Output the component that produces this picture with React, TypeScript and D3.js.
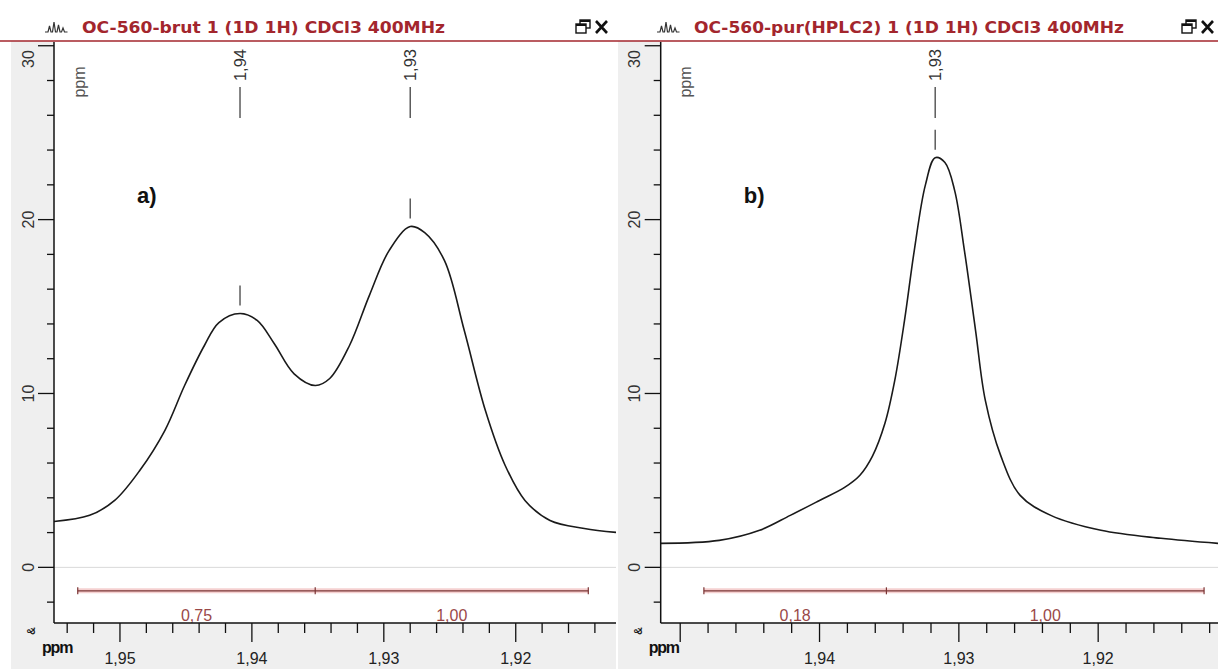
import React from "react";
import * as d3 from "d3";

// ---------- data ----------
const leftTitle = "OC-560-brut 1 (1D 1H) CDCl3 400MHz";
const rightTitle = "OC-560-pur(HPLC2) 1 (1D 1H) CDCl3 400MHz";

const leftPpm = [1.955, 1.9523, 1.9504, 1.9485, 1.9466, 1.9451, 1.9436, 1.9425, 1.9409, 1.9396, 1.9383, 1.9368, 1.9352, 1.9341, 1.9326, 1.9311, 1.9296, 1.928, 1.9269, 1.9254, 1.9239, 1.9223, 1.9208, 1.9193, 1.9174, 1.9148, 1.9124];
const leftIntensity = [2.64, 2.99, 3.85, 5.57, 7.87, 10.46, 12.76, 14.08, 14.6, 14.2, 12.86, 11.13, 10.46, 10.86, 12.76, 15.63, 18.22, 19.6, 19.25, 17.64, 13.62, 9.02, 5.86, 3.85, 2.7, 2.24, 2.01];

const rightPpm = [1.9515, 1.9472, 1.9443, 1.9421, 1.94, 1.9382, 1.9371, 1.9362, 1.9353, 1.9346, 1.9339, 1.9332, 1.9324, 1.9317, 1.931, 1.9303, 1.9296, 1.9288, 1.9281, 1.927, 1.9256, 1.9234, 1.9198, 1.9155, 1.9114];
const rightIntensity = [1.38, 1.55, 2.13, 2.99, 3.85, 4.6, 5.3, 6.4, 8.3, 10.75, 14.2, 18.22, 22.0, 23.56, 23.28, 21.67, 18.22, 13.62, 9.6, 6.44, 4.14, 2.99, 2.13, 1.67, 1.38];

const leftDomain = [1.955, 1.9124];
const rightDomain = [1.9514, 1.9114];
const yDomain = [-3.2, 30.1];

const leftPeaks = [1.9409, 1.928];
const leftPeakHeights = [14.6, 19.6];
const rightPeaks = [1.9317];
const rightPeakHeights = [23.56];

const leftIntegralBounds = [1.9532, 1.9352, 1.9145];
const leftIntegralValues = [0.75, 1.0];
const rightIntegralBounds = [1.9483, 1.9352, 1.9124];
const rightIntegralValues = [0.18, 1.0];
const integralLevel = -1.35;

const leftTickLabels = [1.95, 1.94, 1.93, 1.92];
const rightTickLabels = [1.94, 1.93, 1.92];
const yMajorTicks = [0, 10, 20, 30];
const yMinorTicks = d3.range(-2, 31, 2);

const fmt = (v: number) => d3.format(".2f")(v).replace(".", ",");

// ---------- layout ----------
const W = 1218;
const H = 669;
const HEADER_Y = 41;
const PLOT_TOP = 43;
const AXIS_Y = 623;
const GRAY = "#efefef";
const RED = "#a3262d";
const INTEG = "#7a3434";
const FONT = "'Liberation Sans', Arial, sans-serif";

type PanelProps = {
  x0: number; x1: number; axisX: number; plotRight: number; bandLeft: number;
  title: string; titleLen: number; letter: string;
  ppm: number[]; intensity: number[]; domain: number[];
  peaks: number[]; peakHeights: number[];
  integralBounds: number[]; integralValues: number[];
  tickLabels: number[];
};

function Panel(p: PanelProps) {
  const x = d3.scaleLinear().domain(p.domain).range([p.axisX, p.plotRight]);
  const y = d3.scaleLinear().domain(yDomain).range([AXIS_Y, PLOT_TOP + 1]);
  const pts = p.ppm.map((v, i) => [x(v), y(p.intensity[i])] as [number, number]).sort((a, b) => a[0] - b[0]);
  const line = d3.line().curve(d3.curveCatmullRom.alpha(0.5))(pts) || "";
  const lo = Math.min(p.domain[0], p.domain[1]);
  const hi = Math.max(p.domain[0], p.domain[1]);
  const minor = d3.range(Math.ceil(lo / 0.002 - 1e-6), Math.floor(hi / 0.002 + 1e-6) + 1).map((k) => k * 0.002);
  const isMajor = (v: number) => Math.abs(v * 100 - Math.round(v * 100)) < 1e-6;
  const clipId = `clip-${p.x0}`;
  const icx = p.x1 - 36;
  return (
    <g>
      <defs>
        <clipPath id={clipId}>
          <rect x={p.axisX} y={PLOT_TOP} width={p.plotRight - p.axisX} height={AXIS_Y - PLOT_TOP} />
        </clipPath>
      </defs>
      {/* gray bands */}
      <rect x={p.bandLeft} y={HEADER_Y} width={p.axisX - p.bandLeft} height={H - HEADER_Y} fill={GRAY} />
      <rect x={p.bandLeft} y={AXIS_Y} width={p.plotRight - p.bandLeft} height={H - AXIS_Y} fill={GRAY} />
      {/* header */}
      <line x1={p.x0} x2={p.x1} y1={HEADER_Y} y2={HEADER_Y} stroke={RED} strokeWidth={1.5} />
      <path
        d={`M${p.x0 + 45},32 h3 l1.5,-6 l1.5,6 h1.5 l1.5,-10 l1.5,10 h1.5 l1.5,-7 l1.5,7 h1.5 l1.5,-4 l1.5,4 h3`}
        fill="none" stroke="#333" strokeWidth={1.2}
      />
      <text x={p.x0 + 82} y={33} fontFamily="'DejaVu Sans', Verdana, sans-serif" fontWeight="bold" fontSize={15.5}
        fill={RED} textLength={p.titleLen} lengthAdjust="spacingAndGlyphs">{p.title}</text>
      {/* restore & close icons */}
      <rect x={icx + 4} y={20} width={10} height={8} fill="#fff" stroke="#111" strokeWidth={1.4} />
      <line x1={icx + 4} x2={icx + 14} y1={21} y2={21} stroke="#111" strokeWidth={2} />
      <rect x={icx} y={24} width={10} height={9} fill="#fff" stroke="#111" strokeWidth={1.4} />
      <line x1={icx} x2={icx + 10} y1={25} y2={25} stroke="#111" strokeWidth={2} />
      <path d={`M${icx + 20},21 l11,12 M${icx + 31},21 l-11,12`} stroke="#111" strokeWidth={2.6} />
      {/* zero line */}
      <line x1={p.axisX} x2={p.plotRight} y1={y(0)} y2={y(0)} stroke="#d9d9d9" strokeWidth={1} />
      {/* integrals */}
      <line x1={x(p.integralBounds[0])} x2={x(p.integralBounds[p.integralBounds.length - 1])} y1={y(integralLevel)} y2={y(integralLevel)}
        stroke="#f5d0d0" strokeWidth={5} />
      <line x1={x(p.integralBounds[0])} x2={x(p.integralBounds[p.integralBounds.length - 1])} y1={y(integralLevel)} y2={y(integralLevel)}
        stroke={INTEG} strokeWidth={1.4} />
      {p.integralBounds.map((b, i) => (
        <line key={i} x1={x(b)} x2={x(b)} y1={y(integralLevel) - 3.5} y2={y(integralLevel) + 3.5} stroke={INTEG} strokeWidth={1.2} />
      ))}
      {p.integralValues.map((v, i) => (
        <text key={i} x={x((p.integralBounds[i] + p.integralBounds[i + 1]) / 2)} y={621} textAnchor="middle"
          fontFamily={FONT} fontSize={16} fill="#9a4848">{fmt(v)}</text>
      ))}
      {/* spectrum */}
      <g clipPath={`url(#${clipId})`}>
        <path d={line} fill="none" stroke="#1a1a1a" strokeWidth={1.6} />
      </g>
      {/* peak labels */}
      {p.peaks.map((v, i) => (
        <g key={i}>
          <text transform={`translate(${x(v)},65) rotate(-90)`} textAnchor="middle" dominantBaseline="central"
            fontFamily={FONT} fontSize={16.5} fill="#333">{fmt(v)}</text>
          <line x1={x(v)} x2={x(v)} y1={87} y2={118} stroke="#333" strokeWidth={1.2} />
          <line x1={x(v)} x2={x(v)} y1={y(p.peakHeights[i]) - 28} y2={y(p.peakHeights[i]) - 8} stroke="#333" strokeWidth={1.2} />
        </g>
      ))}
      {/* in-plot ppm unit */}
      <text transform={`translate(${p.axisX + 25},82) rotate(-90)`} textAnchor="middle" dominantBaseline="central"
        fontFamily={FONT} fontSize={16} fill="#555">ppm</text>
      <text x={p.axisX + 83} y={203} fontFamily={FONT} fontWeight="bold" fontSize={22} fill="#111">{p.letter}</text>
      {/* y axis */}
      <line x1={p.axisX} x2={p.axisX} y1={PLOT_TOP - 1} y2={AXIS_Y} stroke="#111" strokeWidth={1.5} />
      {yMinorTicks.map((t) => (
        <line key={t} x1={p.axisX - (yMajorTicks.includes(t) ? 16 : 7)} x2={p.axisX} y1={y(t)} y2={y(t)} stroke="#111" strokeWidth={1.3} />
      ))}
      {yMajorTicks.map((t) => (
        <text key={t} transform={`translate(${p.axisX - 26},${Math.max(y(t), PLOT_TOP + 16)}) rotate(-90)`} textAnchor="middle"
          dominantBaseline="central" fontFamily={FONT} fontSize={16} fill="#333">{t}</text>
      ))}
      {/* x axis */}
      <line x1={p.axisX} x2={p.plotRight} y1={AXIS_Y} y2={AXIS_Y} stroke="#111" strokeWidth={1.5} />
      {minor.map((v, i) => (
        <line key={i} x1={x(v)} x2={x(v)} y1={AXIS_Y} y2={AXIS_Y + (isMajor(v) ? 19 : 10)} stroke="#111" strokeWidth={1.3} />
      ))}
      {p.tickLabels.map((v) => (
        <text key={v} x={x(v)} y={664} textAnchor="middle" fontFamily={FONT} fontSize={16} fill="#222">{fmt(v)}</text>
      ))}
      <text x={p.axisX - 12} y={653} fontFamily={FONT} fontWeight="bold" fontSize={16} letterSpacing={-1.2} fill="#111">ppm</text>
      <text transform={`translate(${p.axisX - 23},${AXIS_Y + 8}) rotate(-90)`} textAnchor="middle" dominantBaseline="central"
        fontFamily={FONT} fontWeight="bold" fontSize={11} fill="#222">&amp;</text>
    </g>
  );
}

export default function App() {
  return (
    <svg width={W} height={H} viewBox={`0 0 ${W} ${H}`} style={{ position: "fixed", left: 0, top: 0, background: "#fff" }}>
      <rect x={0} y={0} width={W} height={H} fill="#fff" />
      <Panel x0={0} x1={612} axisX={54} plotRight={616} bandLeft={11} title={leftTitle} titleLen={363} letter="a)"
        ppm={leftPpm} intensity={leftIntensity} domain={leftDomain} peaks={leftPeaks} peakHeights={leftPeakHeights}
        integralBounds={leftIntegralBounds} integralValues={leftIntegralValues} tickLabels={leftTickLabels} />
      <Panel x0={612} x1={1218} axisX={660.7} plotRight={1218} bandLeft={618} title={rightTitle} titleLen={430} letter="b)"
        ppm={rightPpm} intensity={rightIntensity} domain={rightDomain} peaks={rightPeaks} peakHeights={rightPeakHeights}
        integralBounds={rightIntegralBounds} integralValues={rightIntegralValues} tickLabels={rightTickLabels} />
    </svg>
  );
}
